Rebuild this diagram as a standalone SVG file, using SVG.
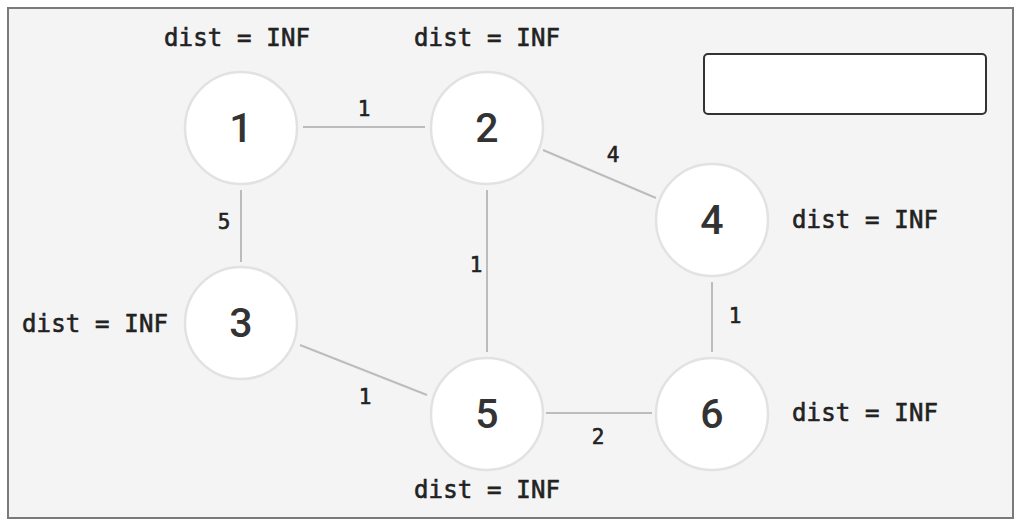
<svg xmlns="http://www.w3.org/2000/svg" width="1021" height="526" viewBox="0 0 1021 526">
  <style>
    .frame { fill: #f4f4f4; stroke: #7a7a7a; stroke-width: 2; }
    .panel { fill: #ffffff; stroke: #333333; stroke-width: 2; }
    .node circle { fill: #ffffff; stroke: #e2e2e2; stroke-width: 2.5; }
    .node .id { font-family: Roboto, "Liberation Sans", sans-serif; font-size: 41px; font-weight: 500; fill: #333333; text-anchor: middle; dominant-baseline: central; }
    .dist { font-family: "DejaVu Sans Mono", "Liberation Mono", monospace; font-size: 24px; fill: #222222; stroke: #222222; stroke-width: 0.6; dominant-baseline: central; text-anchor: middle; }
    .edges line { stroke: #bcbcbc; stroke-width: 2; }
    .edges text { font-family: "DejaVu Sans Mono", "Liberation Mono", monospace; font-size: 21px; fill: #222222; stroke: #222222; stroke-width: 0.6; text-anchor: middle; dominant-baseline: central; }
  </style>

  <rect class="frame" x="8" y="8" width="1005" height="510"/>
  <rect class="panel" x="704" y="54" width="282" height="60" rx="4"/>

  <g id="edges" class="edges">
    <line x1="303" y1="127" x2="425" y2="127"/>
    <text x="364" y="109">1</text>
    <line x1="543" y1="150" x2="656" y2="198"/>
    <text x="613" y="155">4</text>
    <line x1="241" y1="190" x2="241" y2="262"/>
    <text x="224" y="222">5</text>
    <line x1="487" y1="190" x2="487" y2="352"/>
    <text x="476" y="265">1</text>
    <line x1="300" y1="345" x2="427" y2="395"/>
    <text x="365" y="397">1</text>
    <line x1="712" y1="282" x2="712" y2="352"/>
    <text x="735" y="316">1</text>
    <line x1="546" y1="413" x2="652" y2="413"/>
    <text x="598" y="437">2</text>
  </g>

  <g id="node1" class="node">
    <circle cx="241" cy="128" r="56"/>
    <text class="id" x="241" y="128">1</text>
    <text class="dist" x="237" y="38" textLength="146" lengthAdjust="spacing">dist = INF</text>
  </g>
  <g id="node2" class="node">
    <circle cx="487" cy="128" r="56"/>
    <text class="id" x="487" y="128">2</text>
    <text class="dist" x="487" y="38" textLength="146" lengthAdjust="spacing">dist = INF</text>
  </g>
  <g id="node3" class="node">
    <circle cx="241" cy="323" r="56"/>
    <text class="id" x="241" y="323">3</text>
    <text class="dist" x="95" y="324" textLength="146" lengthAdjust="spacing">dist = INF</text>
  </g>
  <g id="node4" class="node">
    <circle cx="712" cy="220" r="56"/>
    <text class="id" x="712" y="220">4</text>
    <text class="dist" x="865" y="220" textLength="146" lengthAdjust="spacing">dist = INF</text>
  </g>
  <g id="node5" class="node">
    <circle cx="487" cy="414" r="56"/>
    <text class="id" x="487" y="414">5</text>
    <text class="dist" x="487" y="490" textLength="146" lengthAdjust="spacing">dist = INF</text>
  </g>
  <g id="node6" class="node">
    <circle cx="712" cy="414" r="56"/>
    <text class="id" x="712" y="414">6</text>
    <text class="dist" x="865" y="413" textLength="146" lengthAdjust="spacing">dist = INF</text>
  </g>
</svg>
